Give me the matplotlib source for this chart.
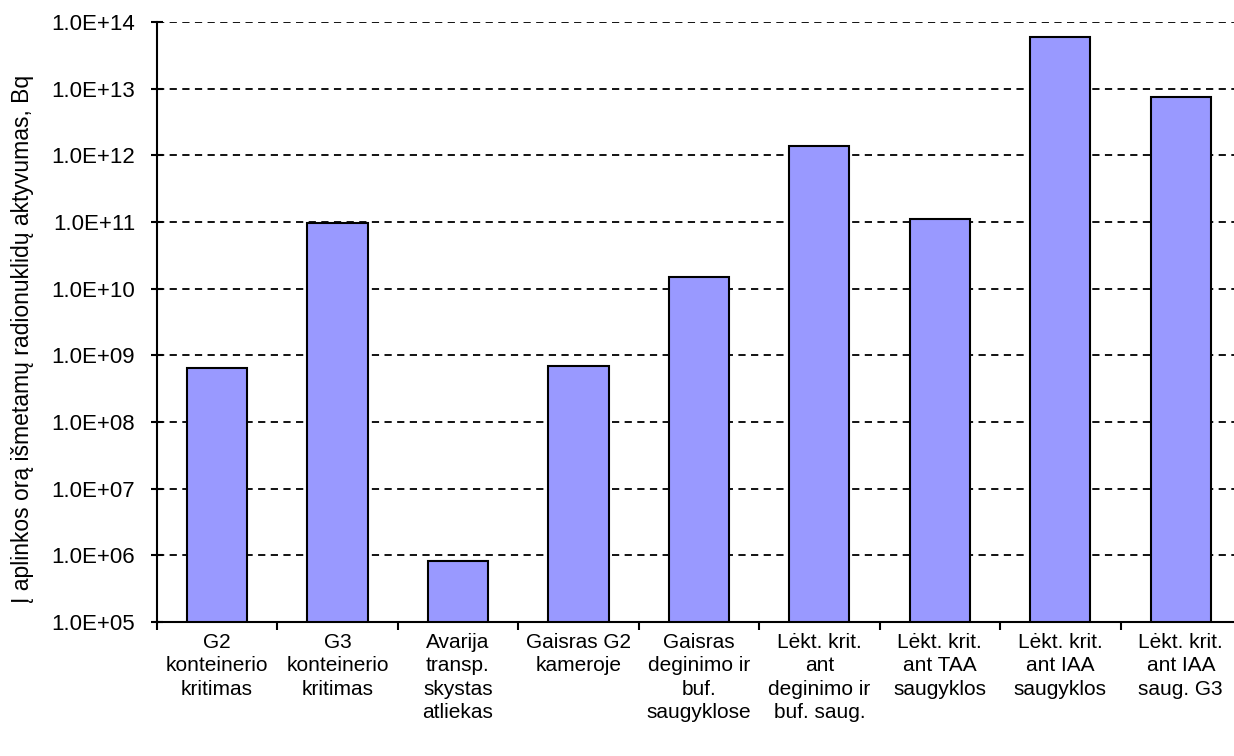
import numpy as np
import matplotlib.pyplot as plt
from matplotlib.ticker import FuncFormatter, FixedLocator, NullFormatter

plt.rcParams['font.family'] = ['Liberation Sans', 'DejaVu Sans']

# Scenarios and released activity (Bq)
scenarios = [
    'G2\nkonteinerio\nkritimas',
    'G3\nkonteinerio\nkritimas',
    'Avarija\ntransp.\nskystas\natliekas',
    'Gaisras G2\nkameroje',
    'Gaisras\ndeginimo ir\nbuf.\nsaugyklose',
    'Lėkt. krit.\nant\ndeginimo ir\nbuf. saug.',
    'Lėkt. krit.\nant TAA\nsaugyklos',
    'Lėkt. krit.\nant IAA\nsaugyklos',
    'Lėkt. krit.\nant IAA\nsaug. G3',
]
activity = [6.4e8, 9.6e10, 7.3e5, 6.9e8, 1.5e10, 1.4e12, 1.1e11, 5.9e13, 7.5e12]

fig = plt.figure(figsize=(12.34, 7.56), dpi=100)
ax = fig.add_axes([0.127, 0.1776, 0.8787, 0.793])

x = np.arange(len(scenarios))
ax.bar(x, activity, width=0.5, bottom=1e5, color='#9999FF', edgecolor='black',
       linewidth=1.5, zorder=3)

ax.set_yscale('log')
ax.set_ylim(1e5, 1e14)
ax.set_xlim(-0.5, len(scenarios) - 0.5)

# y ticks in Excel style
ax.yaxis.set_major_locator(FixedLocator([10.0 ** k for k in range(5, 15)]))
ax.yaxis.set_minor_locator(FixedLocator([]))
ax.yaxis.set_major_formatter(FuncFormatter(lambda v, p: f'{v:.1E}'))
ax.tick_params(axis='y', direction='inout', length=9, width=1.5, labelsize=16, pad=11)
ax.grid(axis='y', color='black', linestyle=(0, (4, 3)), linewidth=1.3, zorder=0)

# x: ticks at category borders, labels centred under bars
ax.xaxis.set_major_locator(FixedLocator(np.arange(len(scenarios) + 1) - 0.5))
ax.xaxis.set_major_formatter(NullFormatter())
ax.xaxis.set_minor_locator(FixedLocator(x))
ax.set_xticklabels(scenarios, minor=True, fontsize=15, linespacing=1.3)
ax.tick_params(axis='x', which='major', direction='out', length=6, width=1.5)
ax.tick_params(axis='x', which='minor', length=0, pad=8)

for side in ['top', 'right']:
    ax.spines[side].set_visible(False)
for side in ['left', 'bottom']:
    ax.spines[side].set_linewidth(1.5)

fig.text(23 / 1234, 1 - 339 / 756, 'Į aplinkos orą išmetamų radionuklidų aktyvumas, Bq',
         rotation=90, ha='center', va='center', fontsize=16.5)

fig.savefig('out.png', dpi=100)
